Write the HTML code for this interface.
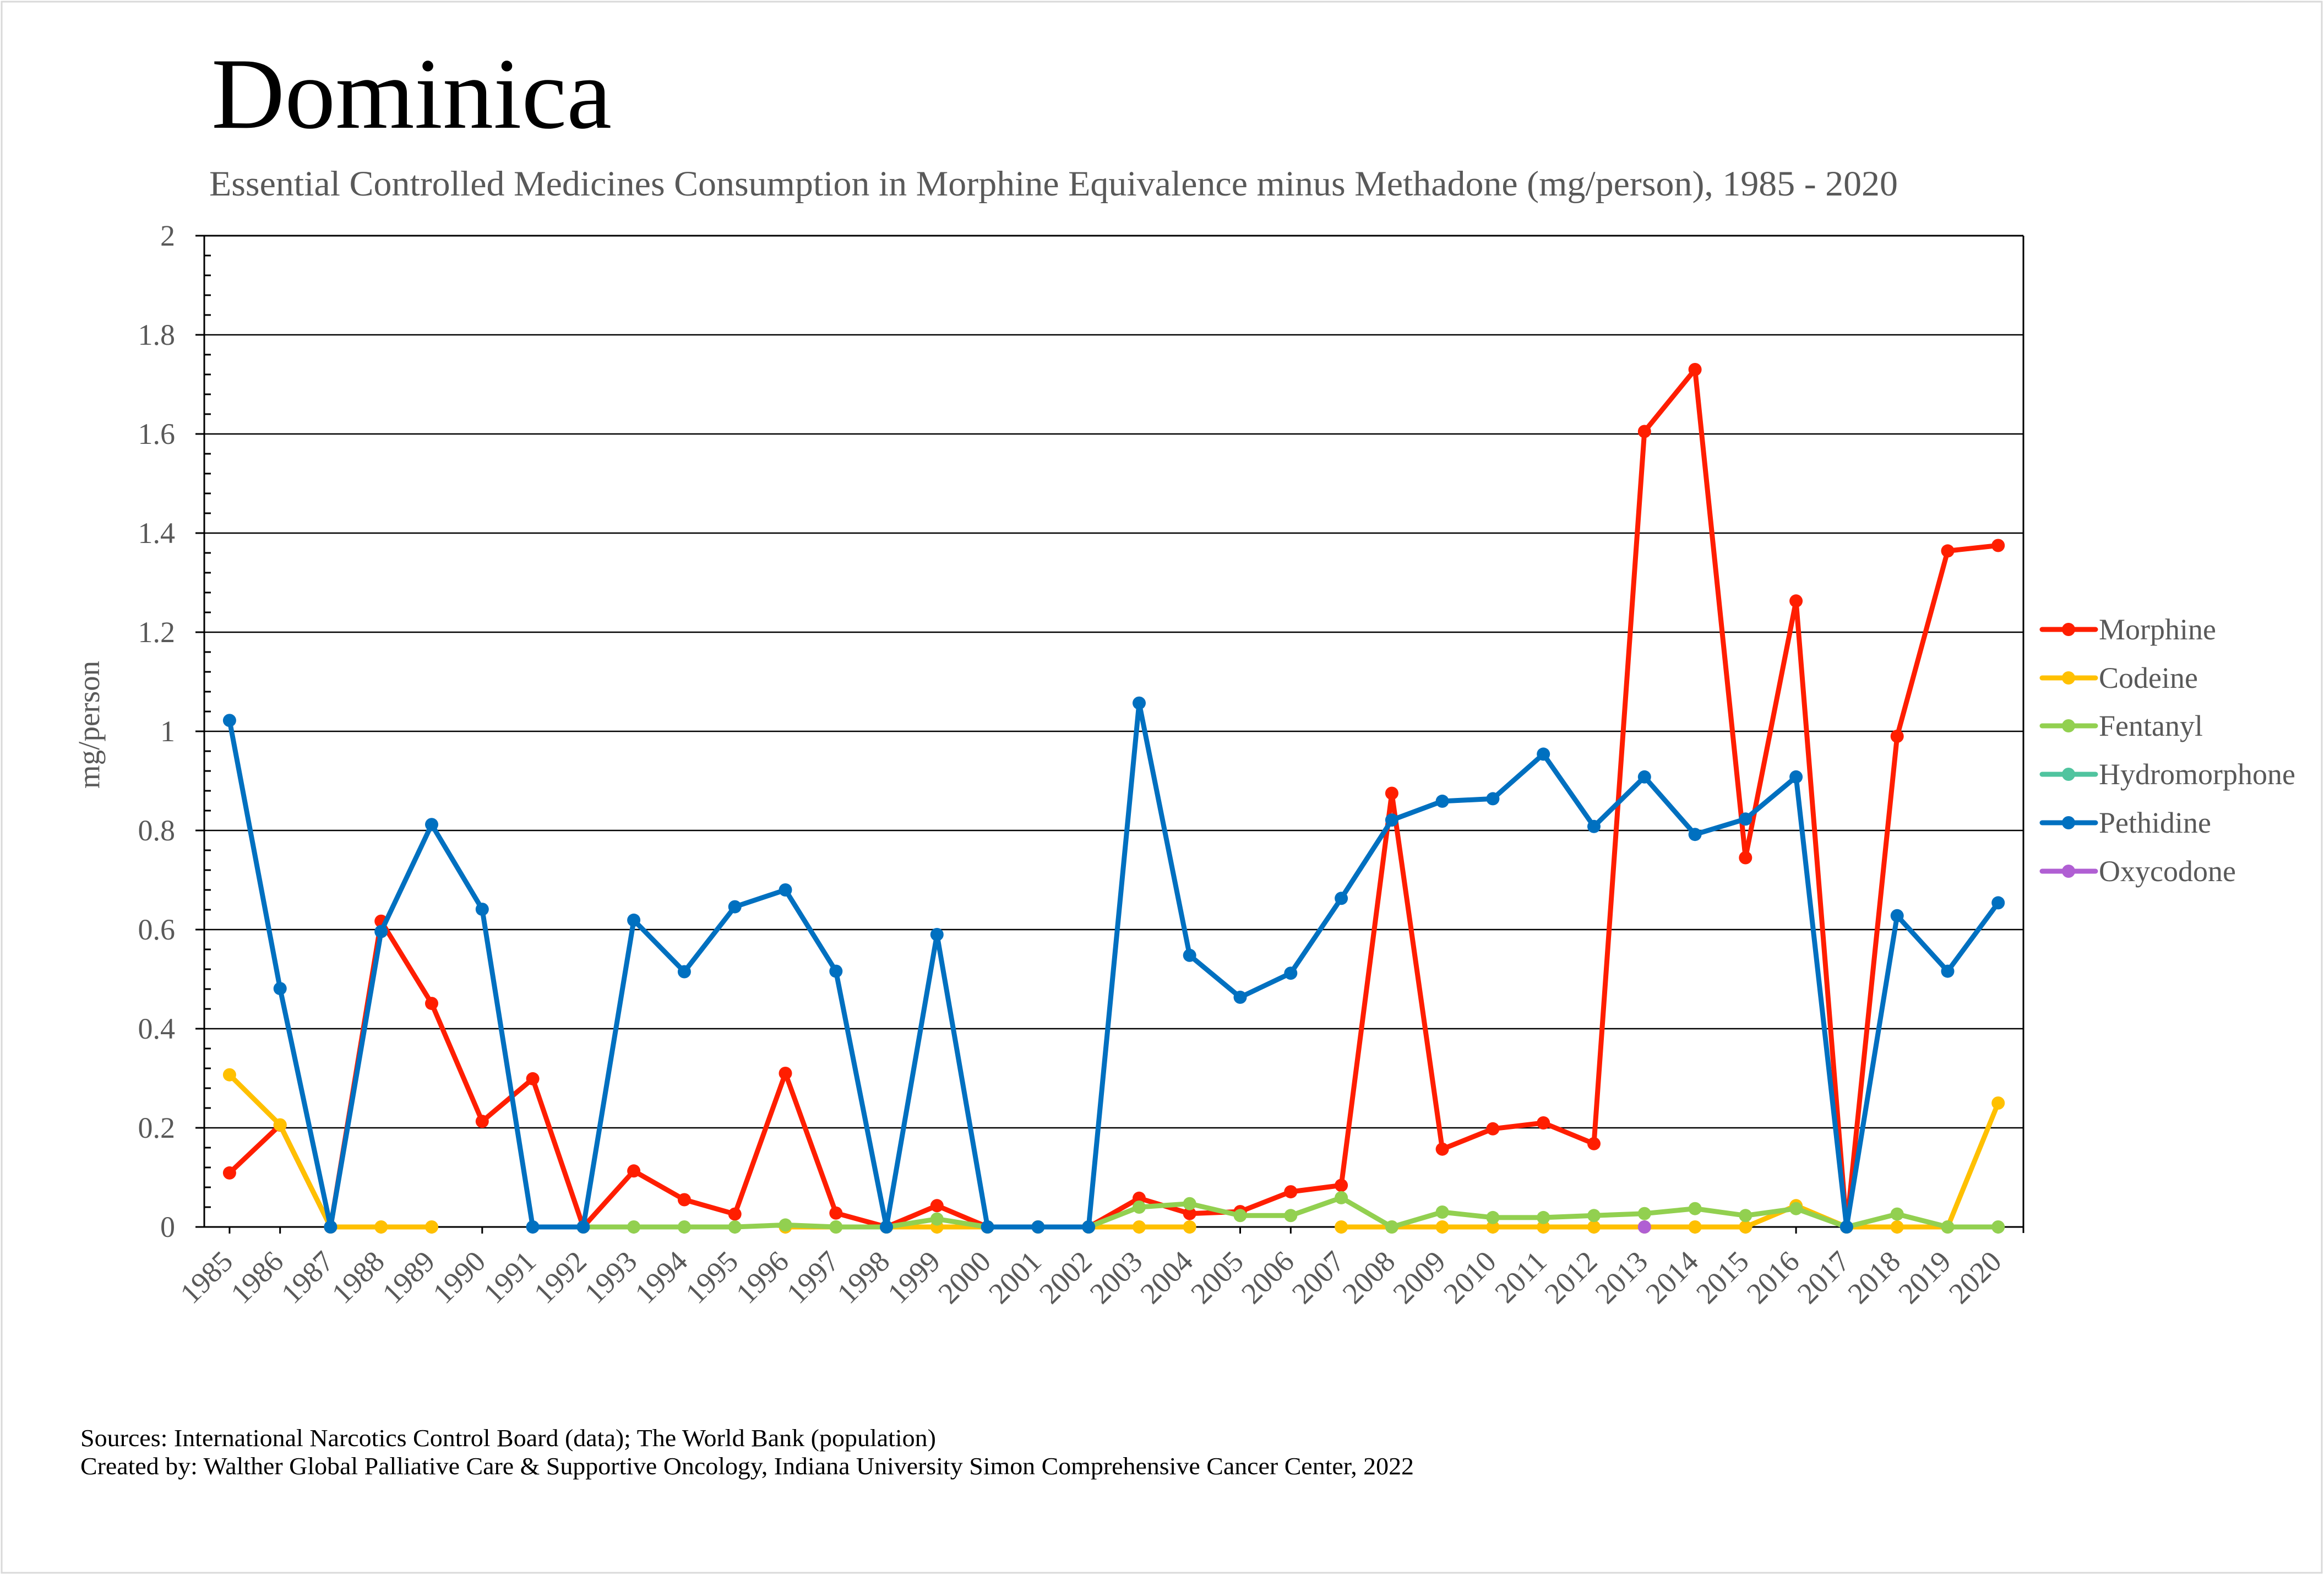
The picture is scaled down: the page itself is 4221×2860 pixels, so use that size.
<!DOCTYPE html>
<html>
<head>
<meta charset="utf-8">
<style>
html,body{margin:0;padding:0;background:#fff;}
svg{display:block;}
text{font-family:"Liberation Serif","Times New Roman",serif;}
</style>
</head>
<body>
<svg xmlns="http://www.w3.org/2000/svg" width="4221" height="2860" viewBox="0 0 4221 2860">
<defs>
<marker id="mR" markerWidth="26" markerHeight="26" refX="13" refY="13" markerUnits="userSpaceOnUse"><circle cx="13" cy="13" r="12" fill="#FF1E00"/></marker>
<marker id="mY" markerWidth="26" markerHeight="26" refX="13" refY="13" markerUnits="userSpaceOnUse"><circle cx="13" cy="13" r="12" fill="#FFC000"/></marker>
<marker id="mG" markerWidth="26" markerHeight="26" refX="13" refY="13" markerUnits="userSpaceOnUse"><circle cx="13" cy="13" r="12" fill="#92D050"/></marker>
<marker id="mB" markerWidth="26" markerHeight="26" refX="13" refY="13" markerUnits="userSpaceOnUse"><circle cx="13" cy="13" r="12" fill="#0070C0"/></marker>
</defs>
<rect x="0" y="0" width="4221" height="2860" fill="#fff"/>
<rect x="3" y="3" width="4214" height="2853" fill="none" stroke="#d9d9d9" stroke-width="3"/>

<!-- Titles -->
<text x="384" y="232" font-size="184" fill="#000" textLength="727" lengthAdjust="spacingAndGlyphs">Dominica</text>
<text x="380" y="355" font-size="65" fill="#595959" textLength="3067" lengthAdjust="spacingAndGlyphs">Essential Controlled Medicines Consumption in Morphine Equivalence minus Methadone (mg/person), 1985 - 2020</text>

<!-- Gridlines -->
<path d="M371 2048H3675M371 1868H3675M371 1688H3675M371 1508H3675M371 1328H3675M371 1148H3675M371 968H3675M371 788H3675M371 608H3675" stroke="#000" stroke-width="2.5" fill="none"/>
<path d="M355 428H3675" stroke="#000" stroke-width="3" fill="none"/>
<path d="M3675 428V2239" stroke="#000" stroke-width="3" fill="none"/>
<path d="M371 428V2228" stroke="#000" stroke-width="3" fill="none"/>
<path d="M355 2048H371M355 1868H371M355 1688H371M355 1508H371M355 1328H371M355 1148H371M355 968H371M355 788H371M355 608H371" stroke="#000" stroke-width="3" fill="none"/>
<path d="M371 2192h12M371 2156h12M371 2120h12M371 2084h12M371 2012h12M371 1976h12M371 1940h12M371 1904h12M371 1832h12M371 1796h12M371 1760h12M371 1724h12M371 1652h12M371 1616h12M371 1580h12M371 1544h12M371 1472h12M371 1436h12M371 1400h12M371 1364h12M371 1292h12M371 1256h12M371 1220h12M371 1184h12M371 1112h12M371 1076h12M371 1040h12M371 1004h12M371 932h12M371 896h12M371 860h12M371 824h12M371 752h12M371 716h12M371 680h12M371 644h12M371 572h12M371 536h12M371 500h12M371 464h12" stroke="#000" stroke-width="3" fill="none"/>
<path d="M355 2228H3675" stroke="#000" stroke-width="3" fill="none"/>
<path d="M416.9 2228v12M508.7 2228v12M600.4 2228v12M692.2 2228v12M784 2228v12M875.8 2228v12M967.6 2228v12M1059.4 2228v12M1151.1 2228v12M1242.9 2228v12M1334.7 2228v12M1426.5 2228v12M1518.3 2228v12M1610 2228v12M1701.8 2228v12M1793.6 2228v12M1885.4 2228v12M1977.2 2228v12M2069 2228v12M2160.7 2228v12M2252.5 2228v12M2344.3 2228v12M2436.1 2228v12M2527.9 2228v12M2619.6 2228v12M2711.4 2228v12M2803.2 2228v12M2895 2228v12M2986.8 2228v12M3078.6 2228v12M3170.3 2228v12M3262.1 2228v12M3353.9 2228v12M3445.7 2228v12M3537.5 2228v12M3629.2 2228v12" stroke="#000" stroke-width="3" fill="none"/>

<!-- Y labels -->
<g font-size="54" fill="#595959" text-anchor="end">
<text x="318" y="446">2</text>
<text x="318" y="626">1.8</text>
<text x="318" y="806">1.6</text>
<text x="318" y="986">1.4</text>
<text x="318" y="1166">1.2</text>
<text x="318" y="1346">1</text>
<text x="318" y="1526">0.8</text>
<text x="318" y="1706">0.6</text>
<text x="318" y="1886">0.4</text>
<text x="318" y="2066">0.2</text>
<text x="318" y="2246">0</text>
</g>
<text transform="translate(180,1316) rotate(-90)" font-size="55" fill="#595959" text-anchor="middle">mg/person</text>

<!-- X labels -->
<g font-size="54" fill="#595959" text-anchor="end">
<text transform="translate(425.9,2294) rotate(-45)">1985</text>
<text transform="translate(517.7,2294) rotate(-45)">1986</text>
<text transform="translate(609.4,2294) rotate(-45)">1987</text>
<text transform="translate(701.2,2294) rotate(-45)">1988</text>
<text transform="translate(793,2294) rotate(-45)">1989</text>
<text transform="translate(884.8,2294) rotate(-45)">1990</text>
<text transform="translate(976.6,2294) rotate(-45)">1991</text>
<text transform="translate(1068.4,2294) rotate(-45)">1992</text>
<text transform="translate(1160.1,2294) rotate(-45)">1993</text>
<text transform="translate(1251.9,2294) rotate(-45)">1994</text>
<text transform="translate(1343.7,2294) rotate(-45)">1995</text>
<text transform="translate(1435.5,2294) rotate(-45)">1996</text>
<text transform="translate(1527.3,2294) rotate(-45)">1997</text>
<text transform="translate(1619,2294) rotate(-45)">1998</text>
<text transform="translate(1710.8,2294) rotate(-45)">1999</text>
<text transform="translate(1802.6,2294) rotate(-45)">2000</text>
<text transform="translate(1894.4,2294) rotate(-45)">2001</text>
<text transform="translate(1986.2,2294) rotate(-45)">2002</text>
<text transform="translate(2078,2294) rotate(-45)">2003</text>
<text transform="translate(2169.7,2294) rotate(-45)">2004</text>
<text transform="translate(2261.5,2294) rotate(-45)">2005</text>
<text transform="translate(2353.3,2294) rotate(-45)">2006</text>
<text transform="translate(2445.1,2294) rotate(-45)">2007</text>
<text transform="translate(2536.9,2294) rotate(-45)">2008</text>
<text transform="translate(2628.6,2294) rotate(-45)">2009</text>
<text transform="translate(2720.4,2294) rotate(-45)">2010</text>
<text transform="translate(2812.2,2294) rotate(-45)">2011</text>
<text transform="translate(2904,2294) rotate(-45)">2012</text>
<text transform="translate(2995.8,2294) rotate(-45)">2013</text>
<text transform="translate(3087.6,2294) rotate(-45)">2014</text>
<text transform="translate(3179.3,2294) rotate(-45)">2015</text>
<text transform="translate(3271.1,2294) rotate(-45)">2016</text>
<text transform="translate(3362.9,2294) rotate(-45)">2017</text>
<text transform="translate(3454.7,2294) rotate(-45)">2018</text>
<text transform="translate(3546.5,2294) rotate(-45)">2019</text>
<text transform="translate(3638.2,2294) rotate(-45)">2020</text>
</g>

<!-- Morphine -->
<polyline fill="none" stroke="#FF1E00" stroke-width="9" stroke-linejoin="round" marker-start="url(#mR)" marker-mid="url(#mR)" marker-end="url(#mR)"
points="416.9,2129.9 508.7,2043 600.4,2228 692.2,1672.7 784,1822.1 875.8,2036.3 967.6,1958.9 1059.4,2228 1151.1,2126.3 1242.9,2178.5 1334.7,2204.6 1426.5,1949 1518.3,2202.8 1610,2228 1701.8,2189.3 1793.6,2228 1885.4,2228 1977.2,2228 2069,2175.8 2160.7,2203.7 2252.5,2200.1 2344.3,2164.1 2436.1,2152.4 2527.9,1440.5 2619.6,2086.7 2711.4,2049.8 2803.2,2039 2895,2076.8 2986.8,783.5 3078.6,671 3170.3,1557.5 3262.1,1091.3 3353.9,2228 3445.7,1337 3537.5,1000.4 3629.2,990.5"/>

<!-- Codeine -->
<g fill="none" stroke="#FFC000" stroke-width="9" stroke-linejoin="round">
<polyline marker-start="url(#mY)" marker-mid="url(#mY)" marker-end="url(#mY)" points="416.9,1951.7 508.7,2042.6 600.4,2228 692.2,2228 784,2228"/>
<polyline marker-start="url(#mY)" marker-mid="url(#mY)" marker-end="url(#mY)" points="1426.5,2228 1518.3,2228 1610,2228 1701.8,2228 1793.6,2228 1885.4,2228 1977.2,2228 2069,2228 2160.7,2228"/>
<polyline marker-start="url(#mY)" marker-mid="url(#mY)" marker-end="url(#mY)" points="2436.1,2228 2527.9,2228 2619.6,2228 2711.4,2228 2803.2,2228 2895,2228 2986.8,2228 3078.6,2228 3170.3,2228 3262.1,2189.3 3353.9,2228 3445.7,2228 3537.5,2228 3629.2,2003"/>
</g>

<!-- Fentanyl -->
<polyline fill="none" stroke="#92D050" stroke-width="9" stroke-linejoin="round" marker-start="url(#mG)" marker-mid="url(#mG)" marker-end="url(#mG)"
points="1059.4,2228 1151.1,2228 1242.9,2228 1334.7,2228 1426.5,2224.4 1518.3,2228 1610,2228 1701.8,2213.6 1793.6,2228 1885.4,2228 1977.2,2228 2069,2192 2160.7,2185.7 2252.5,2207.3 2344.3,2207.3 2436.1,2174.9 2527.9,2228 2619.6,2201 2711.4,2210.9 2803.2,2210.9 2895,2207.3 2986.8,2203.7 3078.6,2194.7 3170.3,2207.3 3262.1,2194.7 3353.9,2228 3445.7,2204.6 3537.5,2228 3629.2,2228"/>

<!-- Pethidine -->
<polyline fill="none" stroke="#0070C0" stroke-width="9" stroke-linejoin="round" marker-start="url(#mB)" marker-mid="url(#mB)" marker-end="url(#mB)"
points="416.9,1308.2 508.7,1795.1 600.4,2228 692.2,1691.6 784,1497.2 875.8,1651.1 967.6,2228 1059.4,2228 1151.1,1670.9 1242.9,1764.5 1334.7,1646.6 1426.5,1616 1518.3,1763.6 1610,2228 1701.8,1697 1793.6,2228 1885.4,2228 1977.2,2228 2069,1276.7 2160.7,1734.8 2252.5,1810.9 2344.3,1767.2 2436.1,1631.3 2527.9,1489.1 2619.6,1454.9 2711.4,1450.4 2803.2,1369.4 2895,1500.8 2986.8,1410.8 3078.6,1515.2 3170.3,1487.3 3262.1,1410.8 3353.9,2228 3445.7,1662.8 3537.5,1763.6 3629.2,1639.4"/>

<!-- Oxycodone -->
<circle cx="2986.8" cy="2228" r="12" fill="#B05FD3"/>

<!-- Legend -->
<g stroke-width="9" stroke-linecap="round" fill="none">
<path d="M3709 1143H3806" stroke="#FF1E00"/>
<path d="M3709 1231H3806" stroke="#FFC000"/>
<path d="M3709 1318H3806" stroke="#92D050"/>
<path d="M3709 1406H3806" stroke="#50C49F"/>
<path d="M3709 1494H3806" stroke="#0070C0"/>
<path d="M3709 1582H3806" stroke="#B05FD3"/>
</g>
<circle cx="3757" cy="1143" r="12" fill="#FF1E00"/>
<circle cx="3757" cy="1231" r="12" fill="#FFC000"/>
<circle cx="3757" cy="1318" r="12" fill="#92D050"/>
<circle cx="3757" cy="1406" r="12" fill="#50C49F"/>
<circle cx="3757" cy="1494" r="12" fill="#0070C0"/>
<circle cx="3757" cy="1582" r="12" fill="#B05FD3"/>
<g font-size="54" fill="#595959">
<text x="3812" y="1161">Morphine</text>
<text x="3812" y="1249">Codeine</text>
<text x="3812" y="1336">Fentanyl</text>
<text x="3812" y="1424">Hydromorphone</text>
<text x="3812" y="1512">Pethidine</text>
<text x="3812" y="1600">Oxycodone</text>
</g>

<!-- Footer -->
<text x="146" y="2626" font-size="44" fill="#000" textLength="1554" lengthAdjust="spacingAndGlyphs">Sources: International Narcotics Control Board (data); The World Bank (population)</text>
<text x="146" y="2677" font-size="44" fill="#000" textLength="2422" lengthAdjust="spacingAndGlyphs">Created by: Walther Global Palliative Care &amp; Supportive Oncology, Indiana University Simon Comprehensive Cancer Center, 2022</text>
</svg>
</body>
</html>
